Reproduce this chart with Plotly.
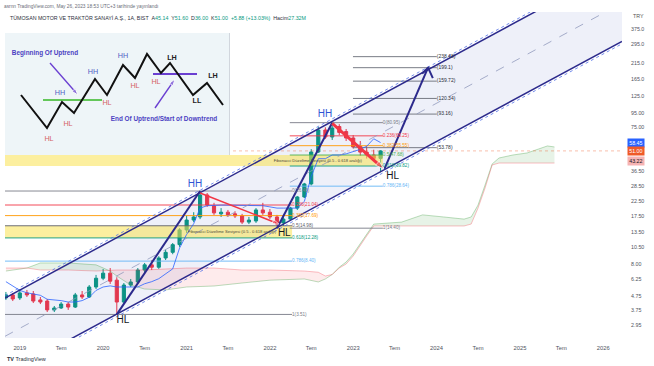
import math
import plotly.graph_objects as go

# ---------------- monthly candles (TUMOSAN, 1A, BIST) ----------------
months = [
    "2018-11-01", "2018-12-01",
    "2019-01-01", "2019-02-01", "2019-03-01", "2019-04-01", "2019-05-01", "2019-06-01",
    "2019-07-01", "2019-08-01", "2019-09-01", "2019-10-01", "2019-11-01", "2019-12-01",
    "2020-01-01", "2020-02-01", "2020-03-01", "2020-04-01", "2020-05-01", "2020-06-01",
    "2020-07-01", "2020-08-01", "2020-09-01", "2020-10-01", "2020-11-01", "2020-12-01",
    "2021-01-01", "2021-02-01", "2021-03-01", "2021-04-01", "2021-05-01", "2021-06-01",
    "2021-07-01", "2021-08-01", "2021-09-01", "2021-10-01", "2021-11-01", "2021-12-01",
    "2022-01-01", "2022-02-01", "2022-03-01", "2022-04-01", "2022-05-01", "2022-06-01",
    "2022-07-01", "2022-08-01", "2022-09-01", "2022-10-01", "2022-11-01", "2022-12-01",
    "2023-01-01", "2023-02-01", "2023-03-01", "2023-04-01", "2023-05-01",
]
open_ = [4.60, 4.83, 4.60, 4.99, 4.91, 4.45, 4.37, 3.78, 3.90, 4.16, 3.96, 4.83, 4.67, 5.50,
         6.35, 6.90, 6.15, 4.30, 5.68, 5.97, 7.26, 7.90, 7.60, 8.84, 9.70, 11.00,
         14.00, 16.45, 17.30, 24.80, 20.70, 18.20, 18.70, 18.20, 17.60, 15.90, 16.20, 19.40,
         18.70, 17.30, 15.70, 16.70, 20.00, 24.00, 29.70, 50.10, 71.80, 64.00, 76.00, 70.00,
         63.00, 55.00, 50.00, 47.70, 45.14]
high = [5.07, 4.99, 5.30, 5.24, 5.15, 4.67, 4.52, 4.03, 4.30, 4.30, 4.99, 5.15, 5.68, 6.70,
        7.38, 7.50, 6.45, 5.87, 6.27, 7.50, 8.15, 8.55, 9.10, 10.10, 11.30, 14.40,
        17.60, 18.70, 26.45, 25.60, 21.80, 20.00, 19.40, 19.00, 18.20, 17.30, 20.00, 21.80,
        19.70, 17.90, 17.60, 20.40, 24.40, 30.20, 52.50, 75.40, 75.00, 80.95, 79.00, 73.00,
        66.00, 60.00, 55.00, 52.00, 51.60]
low = [4.45, 4.37, 4.45, 4.67, 4.23, 4.16, 3.65, 3.65, 3.84, 3.78, 3.90, 4.52, 4.60, 5.32,
       6.15, 5.78, 3.51, 4.16, 5.50, 5.78, 7.00, 7.26, 7.40, 8.55, 9.40, 10.60,
       13.30, 15.90, 16.70, 20.40, 17.90, 17.30, 17.30, 17.00, 15.40, 15.40, 15.70, 17.90,
       16.70, 14.40, 14.90, 16.20, 19.40, 23.60, 29.00, 49.30, 62.00, 61.00, 66.00, 60.00,
       53.00, 47.00, 45.00, 43.50, 36.00]
close = [4.83, 4.52, 4.99, 4.83, 4.37, 4.30, 3.78, 3.90, 4.16, 3.96, 4.83, 4.67, 5.50, 6.35,
         6.90, 6.05, 4.30, 5.68, 5.97, 7.26, 7.90, 7.60, 8.84, 9.70, 11.00, 14.00,
         16.45, 17.30, 24.80, 21.00, 18.50, 18.70, 17.90, 17.60, 15.90, 16.45, 19.40, 18.50,
         17.30, 15.40, 16.70, 20.00, 24.00, 29.70, 50.10, 71.80, 64.00, 74.20, 69.00, 63.00,
         54.40, 50.00, 47.70, 45.12, 51.00]

# Ichimoku conversion line (blue)
tenkan = [6.0, 5.6, 5.2, 5.0, 4.9, 4.8, 4.5, 4.45, 4.4, 4.3, 4.3, 4.4, 4.65, 5.2,
          5.5, 5.6, 5.5, 5.5, 5.5, 5.5, 5.8, 6.0, 6.3, 6.8, 7.4, 10.4,
          13.0, 15.5, 20.0, 20.8, 21.0, 21.0, 21.0, 21.0, 21.0, 21.0, 21.0, 20.8,
          20.4, 20.0, 20.0, 20.0, 20.0, 22.3, 33.5, 44.9, 44.9, 47.7, 47.7, 48.6,
          50.2, 52.3, 55.0, 62.2, 58.45]

# Ichimoku cloud (displaced leading spans)
cloud_dates = ["2018-11-01", "2019-02-01", "2019-04-01", "2019-08-01", "2019-12-01", "2020-02-01",
               "2020-03-01", "2020-05-01", "2020-07-01", "2020-10-01", "2021-01-01", "2021-05-01",
               "2021-09-01", "2022-01-01", "2022-06-01", "2022-08-01", "2022-09-01", "2022-10-01",
               "2022-11-01", "2022-12-01", "2023-01-01", "2023-03-01", "2023-04-01", "2023-08-01",
               "2023-11-01", "2024-02-01", "2024-05-01", "2024-06-01", "2024-07-01", "2024-08-01",
               "2024-09-01", "2024-10-01", "2024-12-01", "2025-02-01", "2025-04-01", "2025-05-01",
               "2025-06-01"]
span_a = [7.14, 7.50, 8.15, 8.15, 7.90, 7.14, 6.58, 5.68, 5.32, 5.24, 5.50, 5.59,
          5.87, 6.15, 6.27, 5.97, 6.27, 6.75, 7.60, 8.28, 9.44, 13.1, 15.4, 15.9,
          17.9, 17.3, 16.7, 17.3, 21.0, 29.2, 41.2, 45.4, 47.7, 49.3, 53.5, 55.3, 54.4]
span_b = [7.50, 7.50, 7.26, 7.26, 7.14, 7.26, 7.26, 7.26, 7.26, 7.38, 7.50, 7.50,
          7.26, 7.26, 7.14, 7.00, 6.58, 6.75, 7.50, 8.01, 9.13, 12.67, 14.93, 14.93,
          14.93, 14.93, 14.93, 15.4, 20.0, 27.8, 40.5, 41.8, 41.8, 41.8, 41.8, 41.8, 41.8]
cloud_segments = [(0, 1, "pink"), (1, 5, "green"), (5, 17, "pink"), (17, 36, "green")]

# Fibonacci retracements and extension
fib_ratios = ["0", "0.236", "0.382", "0.5", "0.618", "0.786", "1"]
fib1_prices = [26.45, 21.04, 17.69, 14.98, 12.28, 8.40, 3.51]
fib2_prices = [80.95, 65.25, 55.55, 47.68, 39.82, 28.64, 14.40]
fib1_colors = ["#787b86", "#f23645", "#ff9800", "#5d606b", "#089981", "#64b5f6", "#787b86"]
fib2_colors = ["#787b86", "#f23645", "#ff9800", "#4caf50", "#089981", "#64b5f6", "#787b86"]
ext_prices = [238.48, 199.1, 159.72, 120.34, 93.16, 53.78]
ext_labels = ["(238.48)", "(199.1)", "(159.72)", "(120.34)", "(93.16)", "(53.78)"]

# axes
x_range = ["2018-10-28", "2026-03-24"]
x_tickvals = ["2019-01-01", "2019-07-01", "2020-01-01", "2020-07-01", "2021-01-01", "2021-07-01",
              "2022-01-01", "2022-07-01", "2023-01-01", "2023-07-01", "2024-01-01", "2024-07-01",
              "2025-01-01", "2025-07-01", "2026-01-01"]
x_ticktext = ["2019", "Tem", "2020", "Tem", "2021", "Tem", "2022", "Tem", "2023", "Tem",
              "2024", "Tem", "2025", "Tem", "2026"]
y_tickvals = [375, 295, 215, 165, 125, 95, 75, 36.5, 28.5, 22.5, 17.5, 13.5, 10.5, 8, 6.25, 4.75, 3.75, 2.95]
y_ticktext = ["375.0", "295.0", "215.0", "165.0", "125.0", "95.00", "75.00", "36.50", "28.50",
              "22.50", "17.50", "13.50", "10.50", "8.00", "6.25", "4.75", "3.75", "2.95"]
y_range_log = [0.3778, 2.6948]

# right-axis price tags
tag_values = [58.45, 51.00, 43.22]
tag_texts = ["58.45", "51.00", "43.22"]
tag_bg = ["#2962ff", "#ef5a28", "#f6b3b3"]
tag_fg = ["white", "white", "#131722"]
last_price = 51.00

# drawings (anchor points of the hand-drawn tools)
chan_dates = ["2018-10-28", "2026-03-24"]
chan_upper = [4.59, 1070.6]
chan_upper_dot = [4.78, 1115.0]
chan_mid = [2.454, 573.0]
chan_lower = [1.314, 306.6]
chan_lower_dot = [1.261, 294.2]

fib1_span = ["2018-10-28", "2022-04-08"]
fib2_span = ["2022-03-29", "2023-05-11"]
ext_span = ["2022-12-31", "2024-01-02"]
band1_span = ["2018-10-28", "2022-04-08"]
band2_span = ["2018-10-28", "2023-05-11"]
band_text = "Fibonacci Düzeltme Seviyesi (0.5 - 0.618 aralığı)"
band_text_pos = [("2021-07-19", 13.56), ("2022-07-30", 43.57)]

navy_arrows = [
    (["2020-03-01", "2021-03-01"], [3.51, 26.45]),
    (["2022-02-01", "2022-10-01"], [14.40, 80.95]),
    (["2023-05-18", "2023-11-25"], [38.0, 199.1]),
]
navy_head = (["2023-10-30", "2023-11-25", "2023-12-16"], [181.0, 199.1, 168.0])
red_arrows = [
    (["2021-03-01", "2022-02-10"], [25.6, 15.4], 1.6, 7),
    (["2022-10-01", "2023-05-15"], [80.0, 38.0], 3.0, 9),
]
swing_labels = [
    ("HH", "2021-02-07", 29.2, "#2f55d4"),
    ("HH", "2022-08-30", 91.8, "#2f55d4"),
    ("HL", "2020-03-28", 3.2, "#131722"),
    ("HL", "2022-03-05", 13.2, "#131722"),
    ("HL", "2023-06-23", 33.8, "#131722"),
]

# inset illustration (its own pixel-like frame)
ins_zig_x = [21, 47, 62, 74, 95, 107, 123, 135, 147, 161, 170, 193, 207, 223]
ins_zig_y = [95, 128, 102, 113, 79, 95, 65, 78, 54, 73, 63, 95, 83, 105]
ins_labels = [
    ("HH", 60, 93, "#4f5fc4"), ("HH", 93, 72, "#4f5fc4"), ("HH", 123, 56, "#4f5fc4"),
    ("HL", 68, 124, "#d46363"), ("HL", 49, 139, "#d46363"), ("HL", 107, 103, "#d46363"),
    ("HL", 135, 86, "#d46363"), ("HL", 156, 82, "#d46363"),
    ("LH", 172, 58, "#222222"), ("LH", 213, 76, "#222222"), ("LL", 197, 101, "#222222"),
]

FONT = "Liberation Sans, Arial, sans-serif"
fig = go.Figure()


def line(x, y, color, width=1.0, dash="solid", xa="x", ya="y"):
    fig.add_trace(go.Scatter(x=x, y=y, mode="lines", xaxis=xa, yaxis=ya,
                             line=dict(color=color, width=width, dash=dash),
                             hoverinfo="skip"))


def text(x, y, t, color, size, pos="middle center", xa="x", ya="y"):
    fig.add_trace(go.Scatter(x=[x], y=[y], mode="text", text=[t], textposition=pos,
                             xaxis=xa, yaxis=ya, cliponaxis=False,
                             textfont=dict(color=color, size=size, family=FONT),
                             hoverinfo="skip"))


def poly(x, y, color, xa="x", ya="y"):
    fig.add_trace(go.Scatter(x=x, y=y, mode="lines", fill="toself", fillcolor=color,
                             line=dict(width=0), xaxis=xa, yaxis=ya, hoverinfo="skip"))


# channel background
poly([chan_dates[0], chan_dates[1], chan_dates[1], chan_dates[0]],
     [chan_upper[0], chan_upper[1], chan_lower[1], chan_lower[0]], "rgba(63,81,181,0.085)")

# Ichimoku cloud
for s, e, c in cloud_segments:
    xs = cloud_dates[s:e + 1]
    fc = "rgba(242,54,69,0.10)" if c == "pink" else "rgba(67,160,71,0.13)"
    poly(xs + xs[::-1], span_a[s:e + 1] + span_b[s:e + 1][::-1], fc)
line(cloud_dates, span_a, "rgba(67,160,71,0.45)", 0.8)
line(cloud_dates, span_b, "rgba(242,54,69,0.40)", 0.8)

# yellow 0.5-0.618 bands
poly([band1_span[0], band1_span[1], band1_span[1], band1_span[0]],
     [fib1_prices[4], fib1_prices[4], fib1_prices[3], fib1_prices[3]], "rgba(250,226,80,0.55)")
poly([band2_span[0], band2_span[1], band2_span[1], band2_span[0]],
     [fib2_prices[4], fib2_prices[4], fib2_prices[3], fib2_prices[3]], "rgba(250,226,80,0.55)")

# fib lines
for p, c in zip(fib1_prices, fib1_colors):
    line(fib1_span, [p, p], c, 0.9)
for p, c in zip(fib2_prices, fib2_colors):
    line(fib2_span, [p, p], c, 0.9)
for p in ext_prices:
    line(ext_span, [p, p], "#6a6d78", 0.9)

# last price line
line(x_range, [last_price, last_price], "rgba(239,90,40,0.55)", 0.7, "dot")

# conversion line
line(months, tenkan, "#2962ff", 0.8)

# candles
fig.add_trace(go.Candlestick(
    x=months, open=open_, high=high, low=low, close=close,
    increasing=dict(line=dict(color="#089981", width=1), fillcolor="#089981"),
    decreasing=dict(line=dict(color="#f23645", width=1), fillcolor="#f23645"),
    hoverinfo="skip", showlegend=False))

# channel lines
line(chan_dates, chan_mid, "rgba(140,150,185,0.85)", 0.9, "dash")
line(chan_dates, chan_upper_dot, "rgba(80,110,230,0.8)", 1.0, "dot")
line(chan_dates, chan_lower_dot, "rgba(80,110,230,0.8)", 1.0, "dot")
line(chan_dates, chan_upper, "#2c2a8c", 1.5)
line(chan_dates, chan_lower, "#2c2a8c", 1.5)

# arrows
for xs, ys in navy_arrows:
    line(xs, ys, "#2c2a8c", 2.0)
line(navy_head[0], navy_head[1], "#2c2a8c", 2.0)
for xs, ys, w, ms in red_arrows:
    fig.add_trace(go.Scatter(x=xs, y=ys, mode="lines+markers",
                             line=dict(color="#f23645", width=w),
                             marker=dict(symbol="arrow", size=[0, ms], angleref="previous",
                                         color="#f23645"),
                             hoverinfo="skip"))

# fib labels
for r, p, c in zip(fib_ratios, fib1_prices, fib1_colors):
    text(fib1_span[1], p, "%s(%.2f)" % (r, p), c, 4.6, "middle right")
for r, p, c in zip(fib_ratios, fib2_prices, fib2_colors):
    text(fib2_span[1], p, "%s(%.2f)" % (r, p), c, 4.6, "middle right")
for p, t in zip(ext_prices, ext_labels):
    text(ext_span[1], p, t, "#2a2e39", 5.0, "middle right")
for bx, by in band_text_pos:
    text(bx, by, band_text, "#4a4a3a", 4.1)

# swing labels
for t, dx, py_, c in swing_labels:
    text(dx, py_, t, c, 10)

# ---------------- inset illustration ----------------
IX, IY = "x2", "y2"
poly([5, 230, 230, 5], [33, 33, 155, 155], "#eef5f8", IX, IY)
line([229.5, 229.5], [33, 155], "#c9ced6", 0.8, xa=IX, ya=IY)
line([43, 102], [100, 100], "#63c75a", 2.2, xa=IX, ya=IY)
line([153, 197], [74, 74], "#6a3fd1", 2.2, xa=IX, ya=IY)
line(ins_zig_x, ins_zig_y, "#111111", 2.0, xa=IX, ya=IY)
for xs, ys in [([50, 78], [63, 95]), ([155, 175], [108, 79])]:
    fig.add_trace(go.Scatter(x=xs, y=ys, mode="lines+markers", xaxis=IX, yaxis=IY,
                             line=dict(color="#6a3fd1", width=1.4),
                             marker=dict(symbol="arrow", size=[0, 7], angleref="previous",
                                         color="#6a3fd1"),
                             hoverinfo="skip"))
text(45, 53, "<b>Beginning Of Uptrend</b>", "#4b3fc2", 6.4, xa=IX, ya=IY)
text(164, 119, "<b>End Of Uptrend/Start of Downtrend</b>", "#4b3fc2", 6.4, xa=IX, ya=IY)
for t, x, y, c in ins_labels:
    bold = "<b>%s</b>" % t if c == "#222222" else t
    text(x, y, bold, c, 7.2, xa=IX, ya=IY)


# ---------------- annotations (paper positions) ----------------
def px(xp):
    return (xp - 5) / 617.0


def py(yp):
    return (338 - yp) / 326.0


G = "#089981"
header2 = ("TÜMOSAN MOTOR VE TRAKTÖR SANAYİ A.Ş., 1A, BIST&nbsp;&nbsp;"
           "A<span style='color:%s'>45.14</span>&nbsp;&nbsp;Y<span style='color:%s'>51.60</span>&nbsp;&nbsp;"
           "D<span style='color:%s'>36.00</span>&nbsp;&nbsp;K<span style='color:%s'>51.00</span>&nbsp;&nbsp;"
           "<span style='color:%s'>+5.88 (+13.03%%)</span>&nbsp;&nbsp;Hacim<span style='color:%s'>27.32M</span>"
           % (G, G, G, G, G, G))
annotations = [
    dict(x=px(2), y=py(6), text="asrnn TradingView.com, May 26, 2023 18:53 UTC+3 tarihinde yayınlandı",
         font=dict(size=4.8, color="#6a6d78")),
    dict(x=px(8), y=py(17.5), text=header2, font=dict(size=5.3, color="#2a2e39")),
    dict(x=px(631), y=py(16), text="TRY", font=dict(size=5.3, color="#555")),
    dict(x=px(5), y=py(359), text="<b>TV</b> TradingView", font=dict(size=5.5, color="#2a2e39")),
]
for a in annotations:
    a.update(xref="paper", yref="paper", xanchor="left", yanchor="middle", showarrow=False)
for v, t, bg, fg in zip(tag_values, tag_texts, tag_bg, tag_fg):
    annotations.append(dict(x=px(627), y=math.log10(v), xref="paper", yref="y", text=t,
                            xanchor="left", yanchor="middle", showarrow=False, bgcolor=bg,
                            borderpad=1.2, font=dict(size=5.3, color=fg)))

fig.update_layout(
    width=654, height=366,
    margin=dict(l=5, r=32, t=12, b=28),
    paper_bgcolor="white", plot_bgcolor="white",
    showlegend=False, hovermode=False,
    font=dict(family=FONT, size=6, color="#131722"),
    annotations=annotations,
    xaxis=dict(type="date", range=x_range, tickmode="array", tickvals=x_tickvals, ticktext=x_ticktext,
               showgrid=False, zeroline=False, showline=False, ticks="outside", ticklen=4,
               tickcolor="rgba(0,0,0,0)", tickfont=dict(size=5.8, color="#50535e"),
               rangeslider=dict(visible=False), fixedrange=True),
    yaxis=dict(type="log", side="right", range=y_range_log, tickmode="array",
               tickvals=y_tickvals, ticktext=y_ticktext, showgrid=False, zeroline=False,
               showline=False, ticks="outside", ticklen=7, tickcolor="rgba(0,0,0,0)",
               tickfont=dict(size=5.3, color="#50535e"), fixedrange=True),
    xaxis2=dict(domain=[0, px(230)], range=[5, 230], anchor="y2", visible=False, fixedrange=True),
    yaxis2=dict(domain=[py(155), py(33)], range=[155, 33], anchor="x2", visible=False, fixedrange=True),
)

fig.write_html("out.html", config={"displayModeBar": False},
               post_script="document.body.style.margin='0';")
